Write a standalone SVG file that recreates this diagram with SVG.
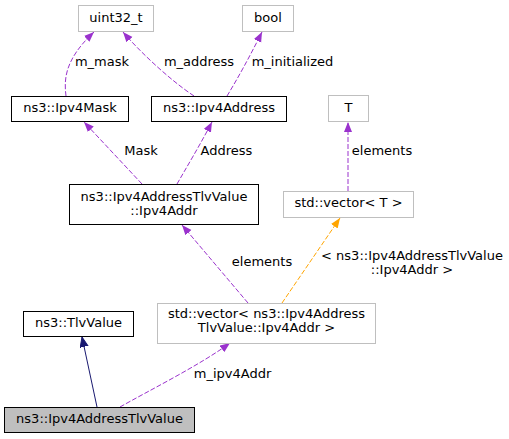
<svg xmlns="http://www.w3.org/2000/svg" width="509" height="439" viewBox="0 0 509 439">
<style>
text{font-family:"DejaVu Sans","Liberation Sans",sans-serif;font-size:13px;fill:#000;text-anchor:middle}
.n{fill:#fff;stroke:#000;stroke-width:1}
.g{fill:#fff;stroke:#bfbfbf;stroke-width:1}
.h{fill:#bfbfbf;stroke:#000;stroke-width:1}
.p{fill:none;stroke:#9a32cd;stroke-dasharray:5,2}
.o{fill:none;stroke:#ffa500;stroke-dasharray:5,2}
.b{fill:none;stroke:#191970}
</style>
<defs>
<marker id="ap" markerUnits="userSpaceOnUse" markerWidth="11" markerHeight="9" refX="10" refY="4" orient="auto"><path d="M0,0 L10,4 L0,8 z" fill="#9a32cd"/></marker>
<marker id="ao" markerUnits="userSpaceOnUse" markerWidth="11" markerHeight="9" refX="10" refY="4" orient="auto"><path d="M0,0 L10,4 L0,8 z" fill="#ffa500"/></marker>
<marker id="ab" markerUnits="userSpaceOnUse" markerWidth="11" markerHeight="9" refX="10" refY="4" orient="auto"><path d="M0,0 L10,4 L0,8 z" fill="#191970" stroke="#191970"/></marker>
</defs>
<rect width="509" height="439" fill="#fff"/>
<g id="connectors">
<path class="p" d="M66,96 C64,80 64,60 94,32" marker-end="url(#ap)"/>
<path class="p" d="M194,96 C170,80 140,52 123,32" marker-end="url(#ap)"/>
<path class="p" d="M227,96 C238,78 250,56 262,32" marker-end="url(#ap)"/>
<path class="p" d="M142,184 L84,122" marker-end="url(#ap)"/>
<path class="p" d="M177,184 C185,170 200,145 212,122" marker-end="url(#ap)"/>
<path class="p" d="M348,191 L348,122" marker-end="url(#ap)"/>
<path class="p" d="M248,303 L182,225" marker-end="url(#ap)"/>
<path class="o" d="M282,303 L340,218" marker-end="url(#ao)"/>
<path class="b" d="M97,407 L82,337" marker-end="url(#ab)"/>
<path class="p" d="M120,407 C150,390 200,365 230,343" marker-end="url(#ap)"/>
<text x="102" y="66">m_mask</text>
<text x="199" y="66">m_address</text>
<text x="292.5" y="66">m_initialized</text>
<text x="141" y="155">Mask</text>
<text x="226.5" y="155">Address</text>
<text x="382" y="155">elements</text>
<text x="262" y="266">elements</text>
<text x="412" y="259.5">&lt; ns3::Ipv4AddressTlvValue</text>
<text x="412" y="274">::Ipv4Addr &gt;</text>
<text x="232.5" y="378">m_ipv4Addr</text>
</g>
<g id="uint32_t"><rect class="g" x="78.5" y="5.5" width="75" height="26"/><text x="116" y="22">uint32_t</text></g>
<g id="bool"><rect class="g" x="242.5" y="5.5" width="51" height="26"/><text x="268" y="22">bool</text></g>
<g id="Ipv4Mask"><rect class="n" x="11.5" y="96.5" width="117" height="25"/><text x="70" y="112">ns3::Ipv4Mask</text></g>
<g id="Ipv4Address"><rect class="n" x="151.5" y="96.5" width="135" height="25"/><text x="219" y="112">ns3::Ipv4Address</text></g>
<g id="T"><rect class="g" x="328.5" y="95.5" width="40" height="26"/><text x="348.5" y="112">T</text></g>
<g id="Ipv4Addr"><rect class="n" x="69.5" y="184.5" width="189" height="40"/><text x="164" y="201">ns3::Ipv4AddressTlvValue</text><text x="164" y="215">::Ipv4Addr</text></g>
<g id="vectorT"><rect class="g" x="283.5" y="191.5" width="130" height="26"/><text x="348.5" y="207">std::vector&lt; T &gt;</text></g>
<g id="vectorIpv4Addr"><rect class="g" x="157.5" y="303.5" width="218" height="40"/><text x="266.5" y="318">std::vector&lt; ns3::Ipv4Address</text><text x="266.5" y="332">TlvValue::Ipv4Addr &gt;</text></g>
<g id="TlvValue"><rect class="n" x="23.5" y="311.5" width="110" height="25"/><text x="78.5" y="327">ns3::TlvValue</text></g>
<g id="Ipv4AddressTlvValue"><rect class="h" x="4.5" y="407.5" width="190" height="25"/><text x="99.5" y="423">ns3::Ipv4AddressTlvValue</text></g>
</svg>
